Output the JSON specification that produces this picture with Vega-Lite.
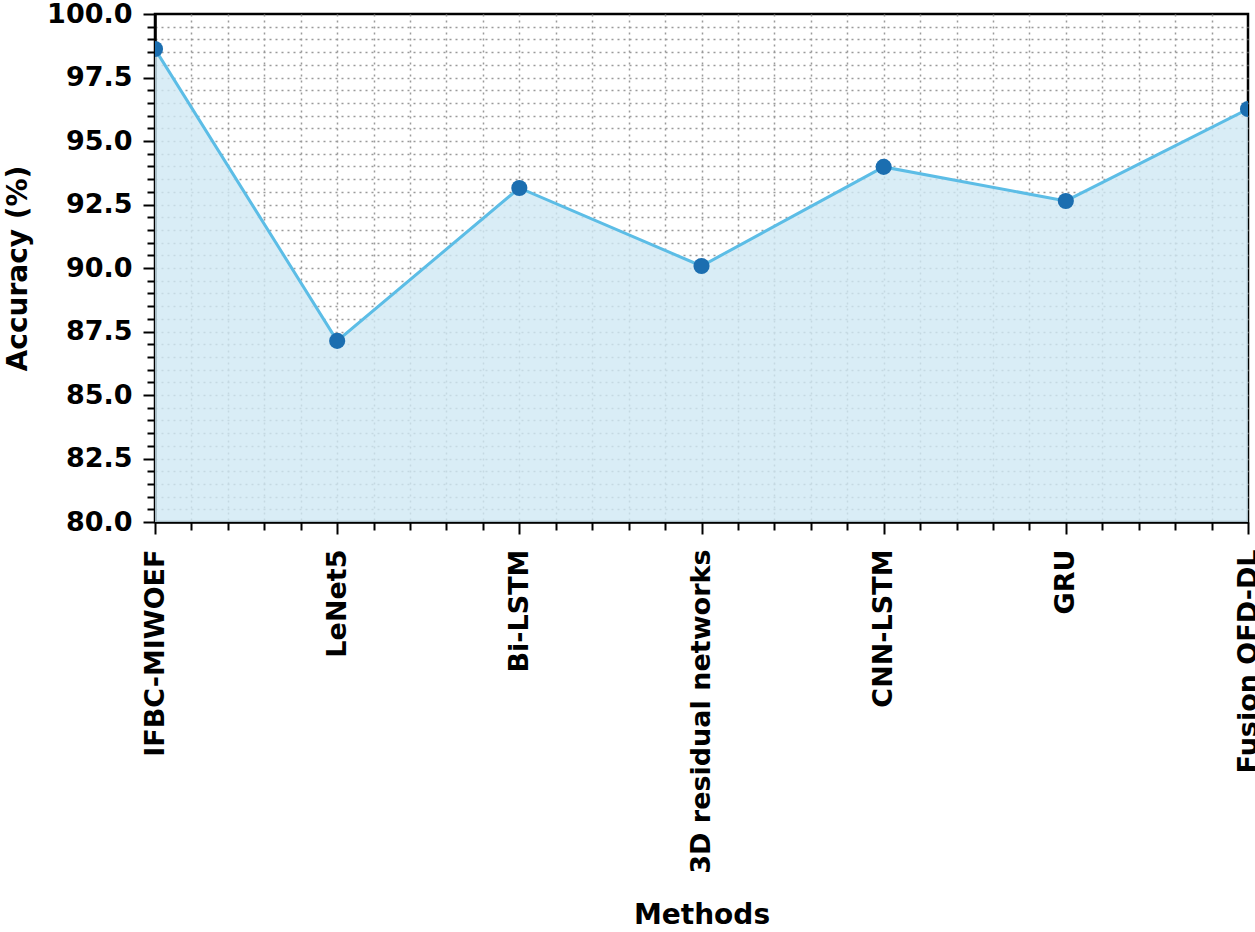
{
  "$schema": "https://vega.github.io/schema/vega-lite/v6.json",
  "autosize": {"type": "none"},
  "width": 1093,
  "height": 508,
  "padding": {"left": 155, "top": 14, "right": 7, "bottom": 410},
  "background": "white",
  "config": {
    "view": {"stroke": "black", "strokeWidth": 2.5},
    "font": "DejaVu Sans"
  },
  "data": {
    "values": [
      {"idx": 0, "method": "IFBC-MIWOEF", "accuracy": 98.62},
      {"idx": 1, "method": "LeNet5", "accuracy": 87.13},
      {"idx": 2, "method": "Bi-LSTM", "accuracy": 93.15},
      {"idx": 3, "method": "3D residual networks", "accuracy": 90.08},
      {"idx": 4, "method": "CNN-LSTM", "accuracy": 93.98},
      {"idx": 5, "method": "GRU", "accuracy": 92.64},
      {"idx": 6, "method": "Fusion OFD-DL", "accuracy": 96.26}
    ]
  },
  "encoding": {
    "x": {
      "field": "idx",
      "type": "quantitative",
      "scale": {"domain": [0, 6], "nice": false, "zero": false},
      "axis": {
        "title": "Methods",
        "titleFont": "DejaVu Sans",
        "titleFontWeight": "bold",
        "titleFontSize": 28,
        "titleColor": "black",
        "titleY": 393,
        "titleBaseline": "middle",
        "values": [0,0.2,0.4,0.6,0.8,1,1.2,1.4,1.6,1.8,2,2.2,2.4,2.6,2.8,3,3.2,3.4,3.6,3.8,4,4.2,4.4,4.6,4.8,5,5.2,5.4,5.6,5.8,6],
        "labelExpr": "datum.value % 1 === 0 ? ['IFBC-MIWOEF','LeNet5','Bi-LSTM','3D residual networks','CNN-LSTM','GRU','Fusion OFD-DL'][datum.value] : ''",
        "labelAngle": -90,
        "labelAlign": "right",
        "labelBaseline": "middle",
        "labelFont": "DejaVu Sans",
        "labelFontWeight": "bold",
        "labelFontSize": 27,
        "labelColor": "black",
        "labelOverlap": false,
        "labelFlush": false,
        "labelBound": false,
        "labelLimit": 0,
        "labelPadding": 15,
        "domainColor": "black",
        "domainWidth": 2.5,
        "tickColor": "black",
        "tickWidth": 2,
        "tickSize": {"condition": {"test": "datum.value % 1 === 0", "value": 12}, "value": 8},
        "grid": true,
        "gridColor": {"condition": {"test": "datum.value === 0 || datum.value === 6", "value": "transparent"}, "value": "#9a9a9a"},
        "gridDash": [2, 4],
        "gridWidth": 1.5
      }
    },
    "y": {
      "field": "accuracy",
      "type": "quantitative",
      "scale": {"domain": [80, 100], "nice": false, "zero": false},
      "axis": {
        "title": "Accuracy (%)",
        "titleFont": "DejaVu Sans",
        "titleFontWeight": "bold",
        "titleFontSize": 28,
        "titleColor": "black",
        "titlePadding": 14,
        "values": [80,80.5,81,81.5,82,82.5,83,83.5,84,84.5,85,85.5,86,86.5,87,87.5,88,88.5,89,89.5,90,90.5,91,91.5,92,92.5,93,93.5,94,94.5,95,95.5,96,96.5,97,97.5,98,98.5,99,99.5,100],
        "labelExpr": "datum.value % 2.5 === 0 ? format(datum.value, '.1f') : ''",
        "labelFont": "DejaVu Sans",
        "labelFontWeight": "bold",
        "labelFontSize": 27,
        "labelColor": "black",
        "labelOverlap": false,
        "labelFlush": false,
        "labelBound": false,
        "labelPadding": 11,
        "domainColor": "black",
        "domainWidth": 2.5,
        "tickColor": "black",
        "tickWidth": 2,
        "tickSize": {"condition": {"test": "datum.value % 2.5 === 0", "value": 12}, "value": 8},
        "grid": true,
        "gridColor": {"condition": {"test": "datum.value === 80 || datum.value === 100", "value": "transparent"}, "value": "#9a9a9a"},
        "gridDash": [2, 4],
        "gridWidth": 1.5
      }
    }
  },
  "layer": [
    {
      "mark": {"type": "area", "color": "#cfe8f4", "opacity": 0.8, "clip": true},
      "encoding": {"y2": {"datum": 80}}
    },
    {
      "mark": {"type": "line", "color": "#5cbde6", "strokeWidth": 3, "clip": true}
    },
    {
      "mark": {"type": "point", "filled": true, "color": "#1b6eb0", "opacity": 1, "size": 260, "clip": true}
    }
  ]
}
